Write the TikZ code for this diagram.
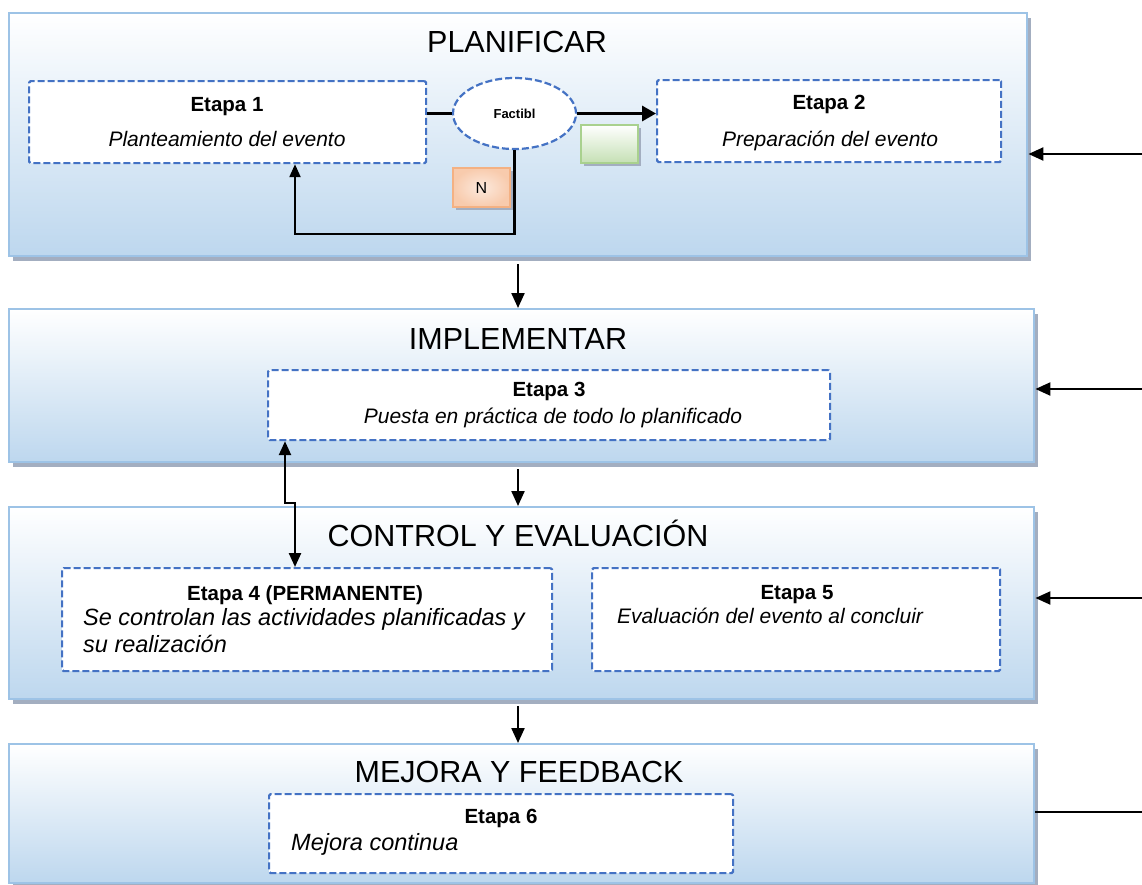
\documentclass[tikz,border=0pt]{standalone}
\usepackage{fontspec}
\setmainfont{Liberation Sans}
\usetikzlibrary{arrows.meta,shapes.geometric,shadows}
\definecolor{dashblue}{HTML}{4472C4}
\definecolor{bandborder}{HTML}{9DC3E6}
\definecolor{bandbot}{HTML}{BDD7EE}
\definecolor{shadowc}{HTML}{A3AEC0}
\definecolor{gborder}{HTML}{A9D18E}
\definecolor{gfill}{HTML}{C5E0B4}
\definecolor{oborder}{HTML}{F4B183}
\definecolor{oinner}{HTML}{FCE9DD}
\definecolor{oouter}{HTML}{F8CBAD}
\newcommand{\fs}[1]{\fontsize{#1}{#1}\selectfont}
\begin{document}
\begin{tikzpicture}[x=1pt,y=-1pt,
  band/.style={draw=bandborder, line width=2.4pt, top color=white, bottom color=bandbot,
    anchor=north west, inner sep=0pt,
    drop shadow={shadow xshift=4pt, shadow yshift=-5pt, fill=shadowc, opacity=1}},
  ebox/.style={draw=dashblue, line width=2.2pt, dash pattern=on 7pt off 3pt, fill=white,
    rounded corners=1.5pt, anchor=north west, inner sep=0pt},
  title/.style={anchor=base, font=\fs{30.5}, inner sep=0pt},
  hd/.style={anchor=base, font=\fs{20.5}\bfseries, inner sep=0pt},
  it/.style={anchor=base, font=\fs{21}\itshape, inner sep=0pt},
  itl/.style={anchor=base west, font=\fs{23.5}\itshape, inner sep=0pt},
  conn/.style={line width=2.2pt},
  arr/.style={line width=2.2pt, -{Triangle[length=15pt,width=13pt]}},
  arrs/.style={line width=2.2pt, -{Triangle[length=13pt,width=11pt]}},
  darr/.style={line width=2.4pt, {Triangle[length=14pt,width=12pt]}-{Triangle[length=14pt,width=12pt]}},
  arrthick/.style={line width=3.2pt, -{Triangle[length=14pt,width=15pt]}},
  tag/.style={anchor=north west, inner sep=0pt, line width=2pt,
    drop shadow={shadow xshift=3pt, shadow yshift=-3pt, fill=shadowc, opacity=1}}
]
\useasboundingbox (0,0) rectangle (1142,884);

% bands
\node[band, minimum width=1018, minimum height=243] (b1) at (8,12) {};
\node[band, minimum width=1025, minimum height=153] (b2) at (8,308) {};
\node[band, minimum width=1025, minimum height=192] (b3) at (8,506) {};
\node[band, minimum width=1025, minimum height=139] (b4) at (8,743) {};

% titles
\node[title] (t1) at (517,52) {PLANIFICAR};
\node[title] (t2) at (518,349) {IMPLEMENTAR};
\node[title] (t3) at (518,546) {CONTROL Y EVALUACIÓN};
\node[title] (t4) at (519,782) {MEJORA Y FEEDBACK};

% stage boxes
\node[ebox, minimum width=397, minimum height=82] (e1) at (28,80) {};
\node[ebox, minimum width=344, minimum height=82] (e2) at (656,79) {};
\node[ebox, minimum width=562, minimum height=70] (e3) at (267,369) {};
\node[ebox, minimum width=490, minimum height=103] (e4) at (61,567) {};
\node[ebox, minimum width=408, minimum height=103] (e5) at (591,567) {};
\node[ebox, minimum width=464, minimum height=79] (e6) at (268,793) {};

% stage texts
\node[hd] (h1) at (227,111) {Etapa 1};
\node[it] (i1) at (227,146) {Planteamiento del evento};
\node[hd] (h2) at (829,109) {Etapa 2};
\node[it] (i2) at (830,146) {Preparación del evento};
\node[hd] (h3) at (549,396) {Etapa 3};
\node[it] (i3) at (553,423) {Puesta en práctica de todo lo planificado};
\node[hd] (h4) at (305,600) {Etapa 4 (PERMANENTE)};
\node[itl] (i4a) at (83,625) {Se controlan las actividades planificadas y};
\node[itl] (i4b) at (83,652) {su realización};
\node[hd] (h5) at (797,599) {Etapa 5};
\node[it, anchor=base west] (i5) at (617,623) {Evaluación del evento al concluir};
\node[hd] (h6) at (501,823) {Etapa 6};
\node[itl] (i6) at (291,850) {Mejora continua};

% decision ellipse and tags
\node[ellipse, draw=dashblue, line width=2.2pt, dash pattern=on 7pt off 3pt, fill=white,
      minimum width=123, minimum height=71, inner sep=0pt, font=\fs{13}\bfseries] (el) at (514.5,113.5) {Factibl};
\node[tag, draw=gborder, top color=white, bottom color=gfill, minimum width=57, minimum height=38] (gs) at (580,124) {};
\node[tag, draw=oborder, inner color=oinner, outer color=oouter, minimum width=57, minimum height=39, font=\fs{16}] (no) at (452,167) {N};

% connectors in PLANIFICAR
\draw[conn] (el.west) -- (el.west -| e1.east);
\draw[arrthick] (el.east) -- (el.east -| e2.west);
\coordinate (lp) at (295,234);
\draw[arrs] (el.south) |- (lp) -- (lp |- e1.south);

% double arrow Etapa 3 <-> Etapa 4
\coordinate (j1) at (285,503);
\coordinate (j2) at (295,503);
\draw[darr] (j1 |- e3.south) -- (j1) -- (j2) -- (j2 |- e4.north);

% arrows between bands
\coordinate (vx) at (518,0);
\draw[arr] ([yshift=-7pt]b1.south -| vx) -- (b2.north -| vx);
\draw[arr] ([yshift=-6pt]b2.south -| vx) -- (b3.north -| vx);
\draw[arr] ([yshift=-6pt]b3.south -| vx) -- (b4.north -| vx);

% arrows from the right
\coordinate (r1) at (1142,154);
\coordinate (r2) at (1142,389);
\coordinate (r3) at (1142,598);
\coordinate (r4) at (1142,812);
\draw[arr] (r1) -- (r1 -| b1.east);
\draw[arr] (r2) -- (r2 -| b2.east);
\draw[arr] (r3) -- (r3 -| b3.east);
\draw[conn] (r4) -- (r4 -| b4.east);
\end{tikzpicture}
\end{document}
